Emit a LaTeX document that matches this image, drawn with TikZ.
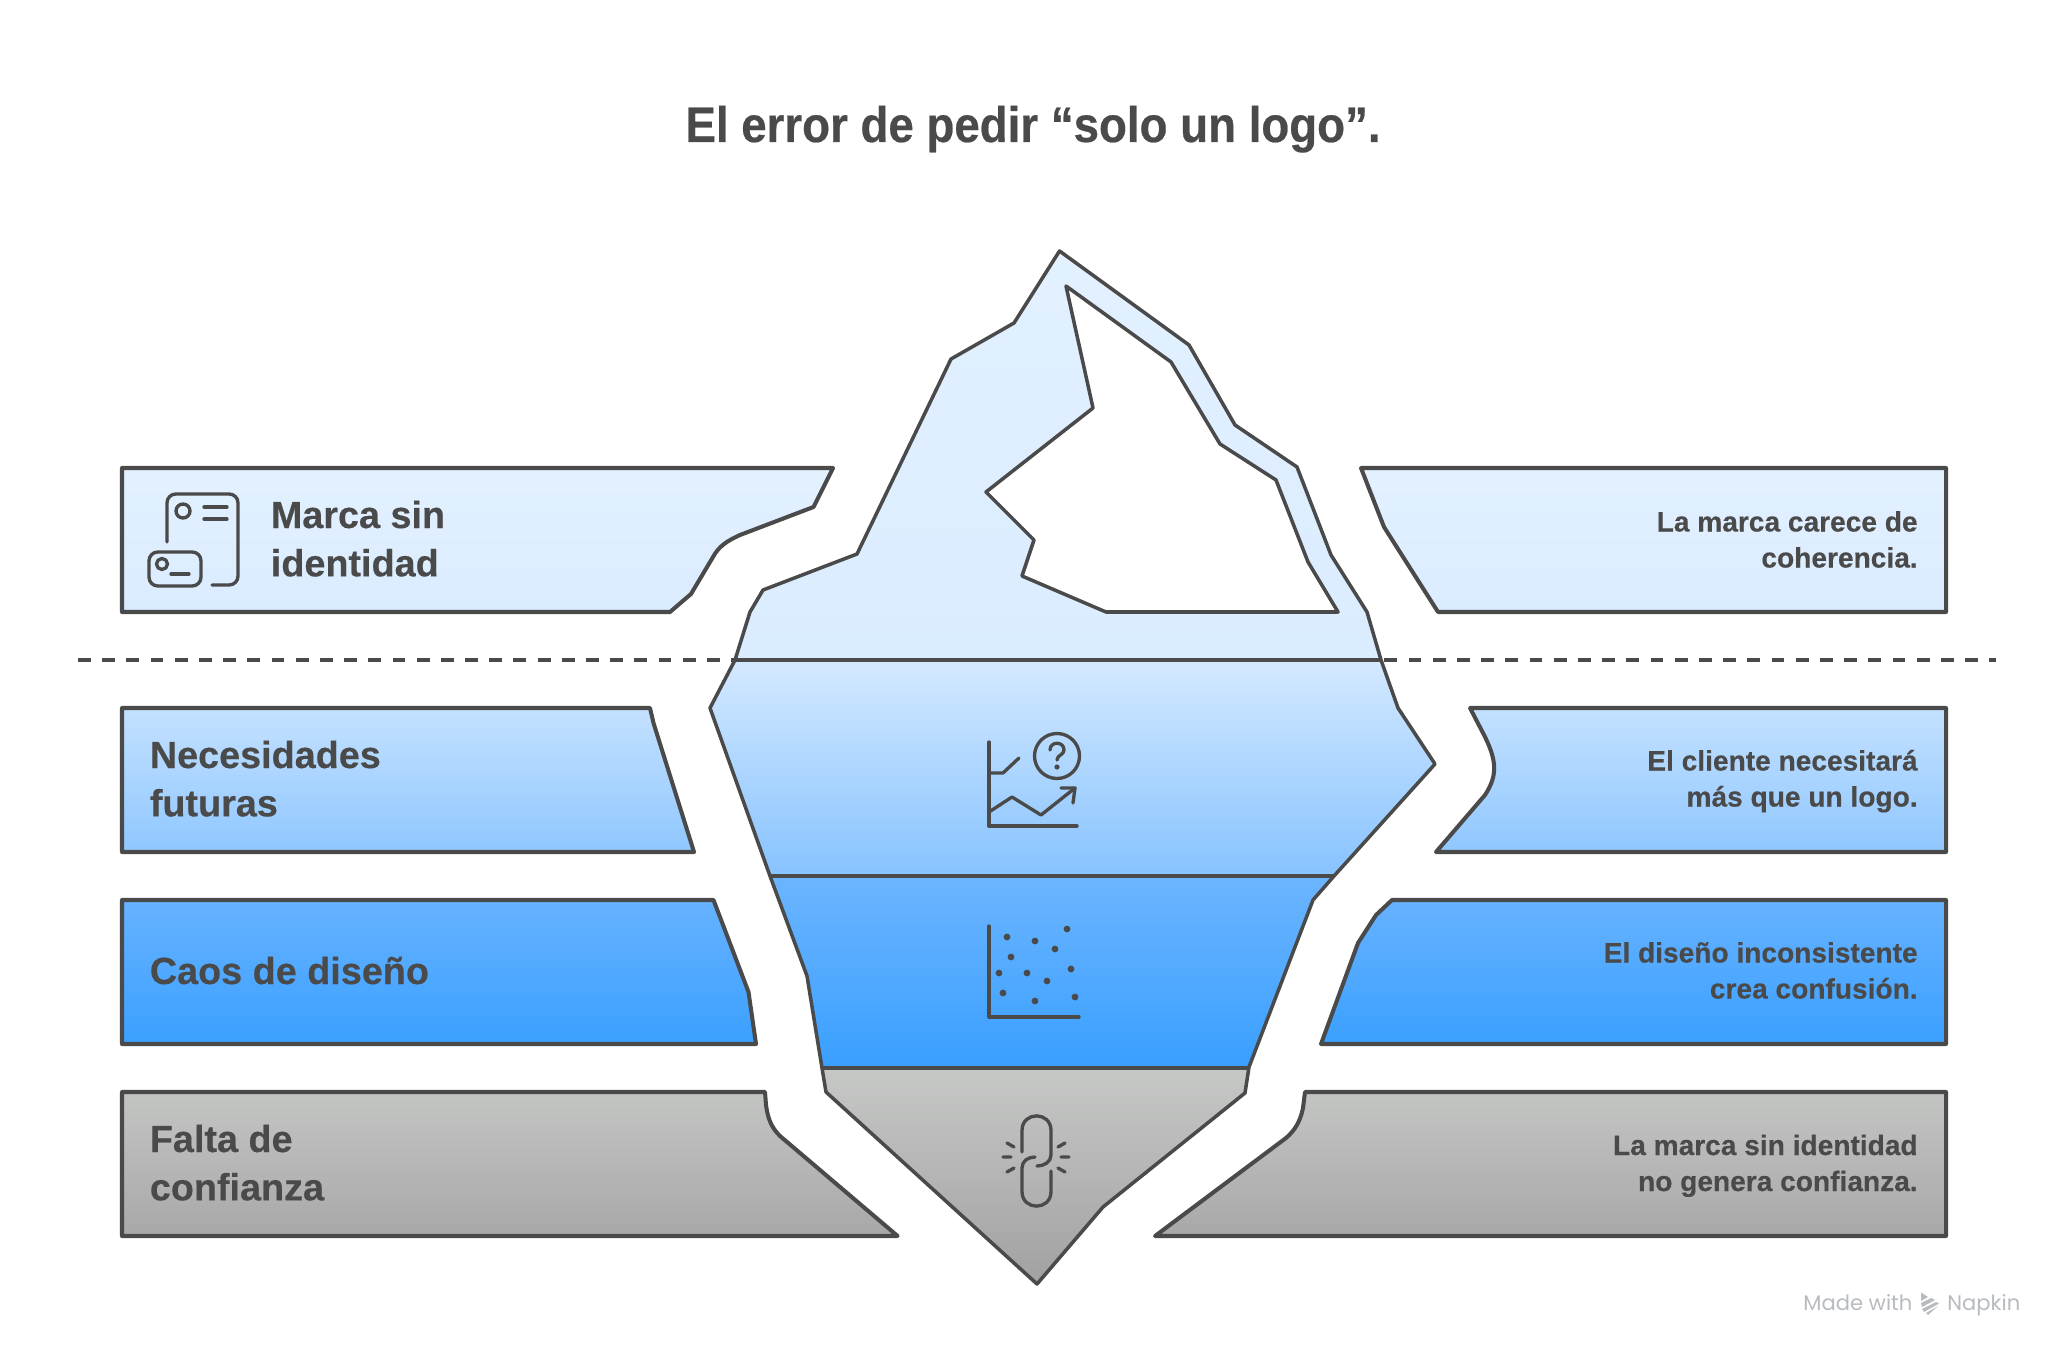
\documentclass[tikz,border=0pt]{standalone}
\usepackage{fontspec}
\setmainfont{Liberation Sans}
\newfontfamily\wmfont{Poppins}
\newfontfamily\labfont[BoldFeatures={FakeBold=0.35}]{Liberation Sans}
\newfontfamily\ttlfont[BoldFeatures={FakeStretch=0.915,FakeBold=0.45}]{Liberation Sans}
\usepackage{array}
\definecolor{ink}{HTML}{4A4A4A}
\tikzset{
  x=0.02cm,y=-0.02cm,
  outline/.style={draw=ink,line width=2.3pt,line join=round},
  thin outline/.style={draw=ink,line width=2pt,line join=round},
  iconline/.style={draw=ink,line width=1.9pt,line cap=round,line join=round,fill=none},
  leftlabel/.style={anchor=base west,inner sep=0pt,text=ink,font=\labfont\bfseries\fontsize{21.5}{27.5}\selectfont},
  rightlabel/.style={anchor=base east,inner sep=0pt,text=ink,font=\labfont\bfseries\fontsize{16}{20.5}\selectfont},
  titlelabel/.style={anchor=base,inner sep=0pt,text=ink,font=\ttlfont\bfseries\fontsize{28.4}{34}\selectfont},
  wmlabel/.style={anchor=base west,inner sep=0pt,text=wmgray,font=\wmfont\fontsize{12}{14}\selectfont},
  b1/.style={top color=c1a,bottom color=c1b},
  b2/.style={top color=c2a,bottom color=c2b},
  b3/.style={top color=c3a,bottom color=c3b},
  b4/.style={top color=c4a,bottom color=c4b},
}
\definecolor{c1a}{HTML}{E3F1FF}\definecolor{c1b}{HTML}{DAECFF}
\definecolor{c2a}{HTML}{C4E1FF}\definecolor{c2b}{HTML}{8FC7FF}
\definecolor{c3a}{HTML}{66B2FF}\definecolor{c3b}{HTML}{3BA0FF}
\definecolor{c4a}{HTML}{C3C5C3}\definecolor{c4b}{HTML}{A8A8A8}
\definecolor{ic2a}{HTML}{D4E9FF}\definecolor{ic2b}{HTML}{87C3FF}
\definecolor{ic3a}{HTML}{6CB5FF}\definecolor{ic3b}{HTML}{399FFF}
\definecolor{ic4a}{HTML}{C6C8C6}\definecolor{ic4b}{HTML}{A0A0A0}
\definecolor{wmgray}{HTML}{B8BCC0}
\newcommand{\icepath}{(1059.5,251) -- (1189,345) -- (1235,425) -- (1297,467) -- (1331,555) -- (1367,612) -- (1381,660) -- (1398,708) -- (1435,764) -- (1334,876) -- (1313,900) -- (1249,1067) -- (1245,1093) -- (1103,1207) -- (1037,1284) -- (826,1092) -- (822,1068) -- (807,976) -- (770,876) -- (710,708) -- (735,660) -- (750,612) -- (763,590) -- (857,554) -- (951,359) -- (1014,323) -- cycle}
\newcommand{\twolines}[2]{\begin{tabular}[t]{@{}r@{}}#1\\#2\end{tabular}}
\newcommand{\twoleft}[2]{\begin{tabular}[t]{@{}l@{}}#1\\#2\end{tabular}}
\begin{document}
\begin{tikzpicture}
\useasboundingbox (0,0) rectangle (2068,1358);
\fill[white] (0,0) rectangle (2068,1358);

% title
\node[titlelabel] (title) at (1033,142) {El error de pedir “solo un logo”.};

% waterline
\coordinate (wl) at (78,660);
\coordinate (wr) at (1996,660);
\draw[draw=ink,line width=2pt,dash pattern=on 7.3pt off 6.47pt] (wl) -- (wr);

% left boxes
\path[outline,b1] (122,468) -- (833,468) -- (813.5,507) -- (740,535) .. controls (727,541) and (719,546) .. (713,557) -- (691,594) -- (670,612) -- (122,612) -- cycle;
\path[outline,b2] (122,708) -- (650,708) -- (653.5,723) -- (694,852) -- (122,852) -- cycle;
\path[outline,b3] (122,900) -- (713.5,900) -- (748.5,992) -- (756,1044) -- (122,1044) -- cycle;
\path[outline,b4] (122,1092) -- (765,1092) -- (766,1105) .. controls (768,1120) and (772,1128) .. (780,1136) -- (897.6,1236) -- (122,1236) -- cycle;

% right boxes
\path[outline,b1] (1361,468) -- (1946,468) -- (1946,612) -- (1438,612) -- (1384,527) -- cycle;
\path[outline,b2] (1470,708) -- (1946,708) -- (1946,852) -- (1436,852) -- (1485,795) .. controls (1498,775) and (1497,760) .. (1483,733) -- cycle;
\path[outline,b3] (1392,900) -- (1946,900) -- (1946,1044) -- (1321,1044) -- (1358,943) -- (1376,915) -- cycle;
\path[outline,b4] (1305,1092) -- (1946,1092) -- (1946,1236) -- (1155,1236) -- (1286,1138) .. controls (1295,1130) and (1300,1122) .. (1303,1108) -- cycle;

% iceberg
\begin{scope}
\clip \icepath;
\shade[top color=c1a,bottom color=c1b] (700,240) rectangle (1450,660);
\shade[top color=ic2a,bottom color=ic2b] (700,660) rectangle (1450,876);
\shade[top color=ic3a,bottom color=ic3b] (700,876) rectangle (1450,1068);
\shade[top color=ic4a,bottom color=ic4b] (700,1068) rectangle (1450,1290);
\end{scope}
\path[thin outline,fill=white] (1066,286) -- (1171,362) -- (1220,444) -- (1276,480) -- (1308,562) -- (1338,612) -- (1106,612) -- (1022,576) -- (1034,540) -- (986,492) -- (1093,408) -- cycle;
\draw[draw=ink,line width=2.3pt] (735,660) -- (1381,660);
\draw[draw=ink,line width=2.3pt] (770,876) -- (1334,876);
\draw[draw=ink,line width=2.3pt] (822,1068) -- (1249,1068);
\path[thin outline,fill=none] \icepath;

% icon: id cards
\draw[iconline,rounded corners=5] (167,542) -- (167,494) -- (238,494) -- (238,585) -- (212,585);
\draw[iconline] (183,511) circle[radius=7];
\draw[iconline] (204,507) -- (227,507) (204,519) -- (227,519);
\draw[iconline,rounded corners=5] (149,552) rectangle (201,586);
\draw[iconline] (162,564) circle[radius=5.5];
\draw[iconline] (171,574) -- (189,574);

% icon: chart with question
\draw[iconline] (989,742) -- (989,826) -- (1077,826);
\draw[iconline] (989,773) -- (1003,773) -- (1019,758);
\draw[iconline] (1057,756) circle[radius=22.5];
\draw[iconline] (1050,750) .. controls (1050,741) and (1064,741) .. (1064,750) .. controls (1064,755) and (1057,755) .. (1057,760);
\fill[ink] (1057,767) circle[radius=2.6];
\draw[iconline] (989,812) -- (1012,797) -- (1041,815) -- (1075,788);
\draw[iconline] (1061,788) -- (1075,788) -- (1073,803);

% icon: scatter
\draw[iconline] (989,926) -- (989,1017) -- (1079,1017);
\foreach \p in {(1007,937),(1035,941),(1067,929),(1055,949),(1011,957),(999,973),(1027,973),(1071,969),(1047,981),(1003,993),(1035,1001),(1075,997)}
  \fill[ink] \p circle[radius=3.4];

% icon: broken link
\draw[iconline] (1022,1152) -- (1022,1130.5) .. controls (1022,1111) and (1051,1111) .. (1051,1130.5) -- (1051,1155) .. controls (1051,1162) and (1044,1166) .. (1037,1166);
\draw[iconline] (1051,1171) -- (1051,1191.5) .. controls (1051,1211) and (1022,1211) .. (1022,1191.5) -- (1022,1168) .. controls (1022,1161) and (1028,1157) .. (1035,1157);
\draw[iconline] (1003,1157) -- (1011,1157) (1007,1143) -- (1014,1147) (1007,1172) -- (1014,1168);
\draw[iconline] (1061,1157) -- (1069,1157) (1058,1147) -- (1065,1143) (1058,1168) -- (1065,1172);

% left labels
\node[leftlabel] (l1) at (270.5,528) {\twoleft{Marca sin}{identidad}};
\node[leftlabel] (l2) at (149.5,768) {\twoleft{Necesidades}{futuras}};
\node[leftlabel] (l3) at (149.5,984) {Caos de diseño};
\node[leftlabel] (l4) at (149.5,1152) {\twoleft{Falta de}{confianza}};

% right labels
\node[rightlabel] (r1) at (1918,531.5) {\twolines{La marca carece de}{coherencia.}};
\node[rightlabel] (r2) at (1918,770.5) {\twolines{El cliente necesitará}{más que un logo.}};
\node[rightlabel] (r3) at (1918,962.5) {\twolines{El diseño inconsistente}{crea confusión.}};
\node[rightlabel] (r4) at (1918,1155) {\twolines{La marca sin identidad}{no genera confianza.}};

% watermark
\node[wmlabel] (wm1) at (1803,1310) {Made with};
\node[wmlabel] (wm2) at (1947,1310) {Napkin};
\fill[wmgray] (1921,1292.5) -- (1928,1297) -- (1921,1301) -- cycle;
\fill[wmgray] (1921,1303) -- (1931,1298) -- (1935,1300) -- (1922,1307) -- cycle;
\fill[wmgray] (1922,1309) -- (1936,1302) -- (1939,1303.5) -- (1924,1312) -- cycle;
\fill[wmgray] (1926,1313) -- (1938,1306) -- (1928,1315) -- cycle;
\end{tikzpicture}
\end{document}
